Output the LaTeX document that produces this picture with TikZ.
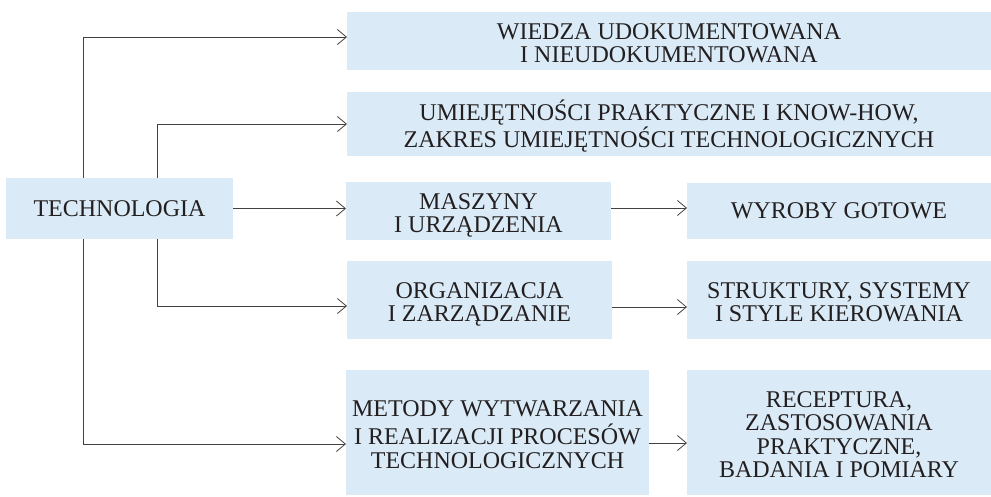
\documentclass[tikz,border=0pt]{standalone}
\usepackage{fontspec}
\setmainfont{Liberation Serif}
\usetikzlibrary{arrows.meta}
\definecolor{boxblue}{RGB}{218,235,247}
\definecolor{ink}{RGB}{35,31,32}
\newcommand{\rowsof}[1]{\begin{tabular}{@{}c@{}}\rule{0pt}{27pt}#1\end{tabular}}
\begin{document}
\begin{tikzpicture}[x=1pt,y=-1pt,
        box/.style={fill=boxblue, text=ink, inner sep=0pt, outer sep=0pt,
            font=\fontsize{24}{23.5}\selectfont},
        flatbox/.style={box, text depth=-2pt},
        arr/.style={draw=ink!85, line width=0.8pt, -{Straight Barb[length=9pt,width=15pt]}}]
        \useasboundingbox (0,0) rectangle (991,496);
        \node[flatbox, minimum width=227pt, minimum height=61pt] (tech) at (119.5,208.5) {TECHNOLOGIA};
        \node[box, minimum width=644pt, minimum height=56pt] (wiedza) at (669,41) {\rowsof{WIEDZA UDOKUMENTOWANA\\I NIEUDOKUMENTOWANA}};
        \node[box, minimum width=644pt, minimum height=64pt] (umiej) at (669,124) {\rowsof{UMIEJĘTNOŚCI PRAKTYCZNE I KNOW-HOW,\\ZAKRES UMIEJĘTNOŚCI TECHNOLOGICZNYCH}};
        \node[box, minimum width=265pt, minimum height=56pt] (maszyny) at (478.5,211) {\rowsof{MASZYNY\\I URZĄDZENIA}};
        \node[flatbox, minimum width=304pt, minimum height=56pt] (wyroby) at (839,211) {WYROBY GOTOWE};
        \node[box, minimum width=265pt, minimum height=78pt] (organiz) at (479.5,300) {\rowsof{ORGANIZACJA\\I ZARZĄDZANIE}};
        \node[box, minimum width=304pt, minimum height=78pt] (struktury) at (839,300) {\rowsof{STRUKTURY, SYSTEMY\\I STYLE KIEROWANIA}};
        \node[box, minimum width=303pt, minimum height=125pt] (metody) at (497.5,432.5) {\rowsof{METODY WYTWARZANIA\\I REALIZACJI PROCESÓW\\TECHNOLOGICZNYCH}};
        \node[box, minimum width=304pt, minimum height=125pt] (receptura) at (839,432.5) {\rowsof{RECEPTURA,\\ZASTOSOWANIA\\PRAKTYCZNE,\\BADANIA I POMIARY}};
        \draw[arr] ([xshift=-36.5pt]tech.north) |- ([yshift=4pt]wiedza.west);
        \draw[arr] ([xshift=37.5pt]tech.north) |- (umiej.west);
        \draw[arr] (tech.east) -- (tech.east -| maszyny.west);
        \draw[arr] ([xshift=37.5pt]tech.south) |- ([yshift=-6pt]organiz.west);
        \draw[arr] ([xshift=-36.5pt]tech.south) |- ([yshift=-11.5pt]metody.west);
        \draw[arr] ([yshift=3pt]maszyny.east) -- ([yshift=3pt]maszyny.east -| wyroby.west);
        \draw[arr] ([yshift=-7pt]organiz.east) -- ([yshift=-7pt]organiz.east -| struktury.west);
        \draw[arr] ([yshift=-10.5pt]metody.east) -- ([yshift=-10.5pt]metody.east -| receptura.west);
    \end{tikzpicture}
\end{document}
